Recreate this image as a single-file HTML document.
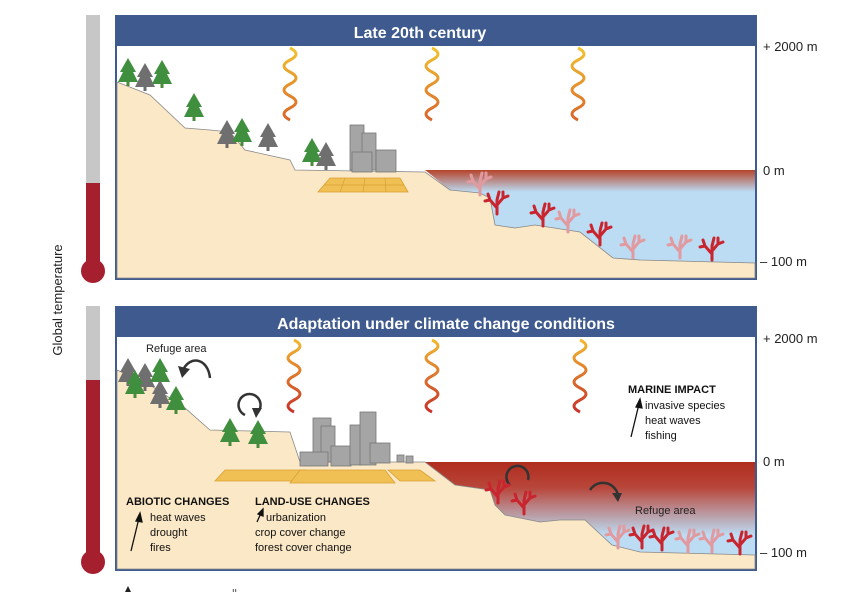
<!DOCTYPE html>
<html><head><meta charset="utf-8"><style>
body{margin:0;background:#fff;}
svg{display:block;font-family:"Liberation Sans",sans-serif;}
</style></head><body>
<svg width="845" height="592" viewBox="0 0 845 592" xmlns="http://www.w3.org/2000/svg">
<defs>
<linearGradient id="sea1" x1="0" y1="170" x2="0" y2="192" gradientUnits="userSpaceOnUse"><stop offset="0" stop-color="#b5442a"/><stop offset="1" stop-color="#bcdcf3"/></linearGradient>
<linearGradient id="sea2" x1="0" y1="462" x2="0" y2="535" gradientUnits="userSpaceOnUse"><stop offset="0" stop-color="#b02d1e"/><stop offset="0.35" stop-color="#b8463a"/><stop offset="1" stop-color="#bcdcf3"/></linearGradient>
<linearGradient id="wv" x1="0" y1="0" x2="0" y2="1"><stop offset="0" stop-color="#f2c230"/><stop offset="1" stop-color="#d9662a"/></linearGradient>
<linearGradient id="wv2" x1="0" y1="0" x2="0" y2="1"><stop offset="0" stop-color="#f2b830"/><stop offset="1" stop-color="#c8322a"/></linearGradient>
<g id="tree"><rect x="-1.5" y="0" width="3" height="6" fill="#4a8a3a"/><polygon points="0,-22 -8,-8 -5,-8 -10,2 10,2 5,-8 8,-8" fill="#3f8f3e"/></g>
<g id="gtree"><rect x="-1.5" y="0" width="3" height="6" fill="#6b6b6b"/><polygon points="0,-22 -8,-8 -5,-8 -10,2 10,2 5,-8 8,-8" fill="#6f6f6f"/></g>
<g id="coral" fill="none" stroke-width="3" stroke-linecap="round"><path d="M0,0 L0,-14 M0,-6 L-7,-14 L-9,-20 M-7,-14 L-12,-13 M0,-9 L6,-16 L6,-22 M6,-16 L11,-18 M0,-14 L2,-22"/></g>
<path id="wave" d="M0,0 c8,4 8,8 0,12 c-8,4 -8,8 0,12 c8,4 8,8 0,12 c-8,4 -8,8 0,12 c8,4 8,8 0,12 c-8,4 -8,8 0,12" fill="none" stroke-width="3"/>
</defs>

<rect x="86" y="15" width="14" height="168" fill="#c7c7c7"/><rect x="86" y="183" width="14" height="82" fill="#a51f2e"/><circle cx="93" cy="271" r="12" fill="#a51f2e"/>
<rect x="86" y="306" width="14" height="74" fill="#c7c7c7"/><rect x="86" y="380" width="14" height="176" fill="#a51f2e"/><circle cx="93" cy="562" r="12" fill="#a51f2e"/>
<text transform="translate(62,300) rotate(-90)" text-anchor="middle" font-size="13" fill="#222">Global temperature</text>

<rect x="116" y="16" width="640" height="263" fill="#fff" stroke="#3e5a8e" stroke-width="2"/>
<path d="M425,170 L755,170 L755,263 L640,260 L613,258 L580,232 L535,225 L515,228 L495,225 L490,198 L480,193 L450,190 Z" fill="url(#sea1)"/>
<path d="M117,82 L150,95 L185,128 L210,130 L230,132 L245,150 L290,160 L295,170 L425,172 L450,190 L480,193 L490,198 L495,225 L515,228 L535,225 L580,232 L613,258 L640,260 L755,263 L755,278 L117,278 Z" fill="#fbe8c6" stroke="#888" stroke-width="0.8"/>
<rect x="116" y="16" width="640" height="30" fill="#3e5a8e"/>
<text x="420" y="38" text-anchor="middle" font-size="16" font-weight="bold" fill="#fff">Late 20th century</text>
<polygon points="330,178 400,178 408,192 318,192" fill="#f0c055" stroke="#d9a030" stroke-width="0.8"/>
<g stroke="#d9a030" stroke-width="0.7"><line x1="324" y1="185" x2="404" y2="185"/><line x1="345" y1="178" x2="340" y2="192"/><line x1="365" y1="178" x2="363" y2="192"/><line x1="385" y1="178" x2="386" y2="192"/></g>
<g fill="#a5a5a5" stroke="#777" stroke-width="0.8"><rect x="350" y="125" width="14" height="45"/><rect x="362" y="133" width="14" height="37"/><rect x="352" y="152" width="20" height="20"/><rect x="376" y="150" width="20" height="22"/></g>
<use href="#tree" x="128" y="80"/><use href="#gtree" x="145" y="85"/><use href="#tree" x="162" y="82"/>
<use href="#tree" x="194" y="115"/><use href="#gtree" x="227" y="142"/><use href="#tree" x="242" y="140"/><use href="#gtree" x="268" y="145"/>
<use href="#tree" x="312" y="160"/><use href="#gtree" x="326" y="164"/>
<use href="#wave" x="290" y="48" stroke="url(#wv)"/><use href="#wave" x="432" y="48" stroke="url(#wv)"/><use href="#wave" x="578" y="48" stroke="url(#wv)"/>
<use href="#coral" x="480" y="195" stroke="#e09aa0"/>
<use href="#coral" x="497" y="214" stroke="#c8252f"/><use href="#coral" x="543" y="226" stroke="#c8252f"/><use href="#coral" x="568" y="232" stroke="#e09aa0"/>
<use href="#coral" x="600" y="245" stroke="#c8252f"/><use href="#coral" x="633" y="258" stroke="#e09aa0"/><use href="#coral" x="680" y="258" stroke="#e09aa0"/><use href="#coral" x="712" y="260" stroke="#c8252f"/>

<rect x="116" y="307" width="640" height="263" fill="#fff" stroke="#3e5a8e" stroke-width="2"/>
<path d="M425,462 L755,462 L755,555 L640,552 L612,545 L585,520 L560,520 L540,522 L505,515 L495,505 L490,490 L455,485 Z" fill="url(#sea2)"/>
<path d="M117,370 L150,385 L185,408 L210,430 L290,432 L300,462 L425,462 L455,485 L490,490 L495,505 L505,515 L540,522 L560,520 L585,520 L612,545 L640,552 L755,555 L755,569 L117,569 Z" fill="#fbe8c6" stroke="#888" stroke-width="0.8"/>
<rect x="116" y="307" width="640" height="30" fill="#3e5a8e"/>
<text x="446" y="329" text-anchor="middle" font-size="16" font-weight="bold" fill="#fff">Adaptation under climate change conditions</text>
<g fill="#f0c055" stroke="#d9a030" stroke-width="0.8"><polygon points="225,470 305,470 292,481 215,481"/><polygon points="300,470 385,470 395,483 290,483"/><polygon points="388,470 420,470 435,481 400,481"/></g>
<g fill="#a5a5a5" stroke="#777" stroke-width="0.8"><rect x="313" y="418" width="18" height="44"/><rect x="321" y="426" width="14" height="36"/><rect x="300" y="452" width="28" height="14"/><rect x="331" y="446" width="20" height="20"/><rect x="350" y="425" width="12" height="40"/><rect x="360" y="412" width="16" height="53"/><rect x="370" y="443" width="20" height="20"/><rect x="397" y="455" width="7" height="7"/><rect x="406" y="456" width="7" height="7"/></g>
<use href="#gtree" x="128" y="380"/><use href="#gtree" x="145" y="385"/><use href="#tree" x="135" y="392"/><use href="#tree" x="160" y="380"/><use href="#gtree" x="160" y="402"/><use href="#tree" x="176" y="408"/>
<use href="#tree" x="230" y="440"/><use href="#tree" x="258" y="442"/>
<text x="146" y="352" font-size="11" fill="#222">Refuge area</text>
<path d="M183,370 C190,355 208,358 210,378" fill="none" stroke="#333" stroke-width="2.5"/><polygon points="178,366 190,369 182,378" fill="#333"/>
<path d="M245,415 A11,11 0 1 1 258,412" fill="none" stroke="#333" stroke-width="2.5"/><polygon points="252,408 262,408 256,418" fill="#333"/>
<use href="#wave" x="294" y="340" stroke="url(#wv2)"/><use href="#wave" x="432" y="340" stroke="url(#wv2)"/><use href="#wave" x="580" y="340" stroke="url(#wv2)"/>
<path d="M510,485 A11,11 0 1 1 528,480" fill="none" stroke="#333" stroke-width="2.5"/>
<path d="M590,490 C598,478 615,482 618,495" fill="none" stroke="#333" stroke-width="2.5"/><polygon points="612,493 622,493 618,502" fill="#333"/>
<text x="635" y="514" font-size="11" fill="#222">Refuge area</text>
<use href="#coral" x="498" y="503" stroke="#c8252f"/><use href="#coral" x="524" y="514" stroke="#c8252f"/>
<use href="#coral" x="618" y="548" stroke="#e09aa0"/><use href="#coral" x="642" y="548" stroke="#c8252f"/><use href="#coral" x="662" y="550" stroke="#c8252f"/><use href="#coral" x="688" y="552" stroke="#e09aa0"/><use href="#coral" x="712" y="552" stroke="#e09aa0"/><use href="#coral" x="740" y="554" stroke="#c8252f"/>
<g font-size="11" fill="#111">
<text x="126" y="505" font-weight="bold">ABIOTIC CHANGES</text>
<text x="150" y="521">heat waves</text><text x="150" y="536">drought</text><text x="150" y="551">fires</text>
<text x="255" y="505" font-weight="bold">LAND-USE CHANGES</text>
<text x="266" y="521">urbanization</text><text x="255" y="536">crop cover change</text><text x="255" y="551">forest cover change</text>
<text x="628" y="393" font-weight="bold">MARINE IMPACT</text>
<text x="645" y="409">invasive species</text><text x="645" y="424">heat waves</text><text x="645" y="439">fishing</text>
</g>
<g stroke="#111" stroke-width="1.3" fill="#111">
<line x1="131" y1="551" x2="139" y2="518"/><polygon points="140,513 136,521 142,522"/>
<line x1="257" y1="522" x2="261" y2="513"/><polygon points="263,509 258,514 263,516"/>
<line x1="631" y1="437" x2="639" y2="404"/><polygon points="640,399 636,407 642,408"/>
</g>
<g font-size="13" fill="#222">
<text x="763" y="51">+ 2000 m</text><text x="763" y="175">0 m</text><text x="760" y="266">– 100 m</text>
<text x="763" y="343">+ 2000 m</text><text x="763" y="466">0 m</text><text x="760" y="557">– 100 m</text>
</g>
<g fill="#222"><polygon points="125,592 128,586 131,592"/><text x="232" y="594" font-size="9">ıı</text></g>
</svg>
</body></html>
